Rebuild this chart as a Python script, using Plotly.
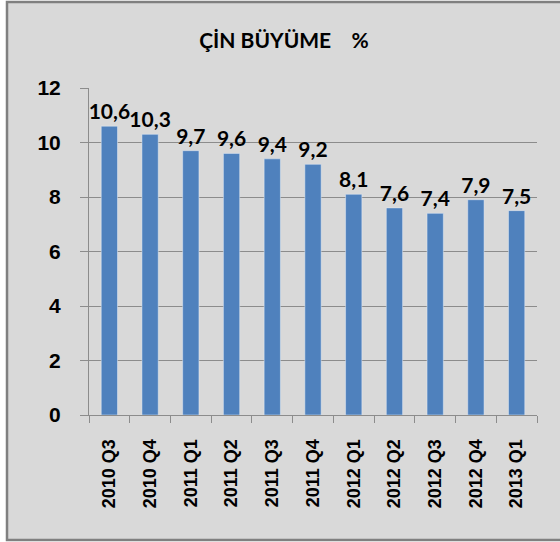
import plotly.graph_objects as go

categories = ["2010 Q3", "2010 Q4", "2011 Q1", "2011 Q2", "2011 Q3", "2011 Q4",
              "2012 Q1", "2012 Q2", "2012 Q3", "2012 Q4", "2013 Q1"]
growth = [10.6, 10.3, 9.7, 9.6, 9.4, 9.2, 8.1, 7.6, 7.4, 7.9, 7.5]
labels = [f"{v:.1f}".replace(".", ",") for v in growth]
y_ticks = [0, 2, 4, 6, 8, 10, 12]

L, R, T, B = 89, 23, 88, 127
W, H = 560, 542
pw, ph = W - L - R, H - T - B

fig = go.Figure(go.Bar(
    x=categories, y=growth, text=labels, textposition="outside",
    marker_color="#4F81BD", cliponaxis=False, constraintext="none",
    textfont=dict(family="Lato", size=21, color="black", weight="bold"),
))

fig.update_layout(
    width=W, height=H,
    margin=dict(l=L, r=R, t=T, b=B),
    paper_bgcolor="white", plot_bgcolor="rgba(0,0,0,0)",
    bargap=0.6, showlegend=False,
    title=dict(text="<b>ÇİN BÜYÜME&nbsp;&nbsp;&nbsp;&nbsp;%</b>", x=284 / W, xanchor="center",
               y=1 - 41 / H, yanchor="middle",
               font=dict(family="Lato", size=21, color="black")),
    shapes=[dict(type="rect", xref="paper", yref="paper", layer="below",
                 x0=(7 - L) / pw, x1=(W + 5 - L) / pw,
                 y0=(T + ph - 540) / ph, y1=(T + ph - 2) / ph,
                 fillcolor="#D9D9D9", line=dict(color="#808080", width=2.5))],
)

fig.update_yaxes(range=[0, 12], tickvals=y_ticks, ticktext=[f"<b>{v}</b>" for v in y_ticks],
                 showgrid=True, gridcolor="#8C8C8C",
                 gridwidth=1, showline=True, linecolor="#8C8C8C", ticks="outside",
                 ticklen=8, tickcolor="#8C8C8C", zeroline=False, ticklabelstandoff=15,
                 tickfont=dict(family="Arial", size=21, color="black"))
fig.update_xaxes(tickangle=-90, showline=True, linecolor="#8C8C8C", ticks="outside",
                 tickson="boundaries", ticklen=7, tickcolor="#8C8C8C", ticklabelstandoff=16,
                 tickfont=dict(family="Arial", size=18, color="black", weight="bold"))

fig.write_html("out.html", config={"displayModeBar": False},
               post_script="document.body.style.margin='0';document.body.style.overflow='hidden';")
